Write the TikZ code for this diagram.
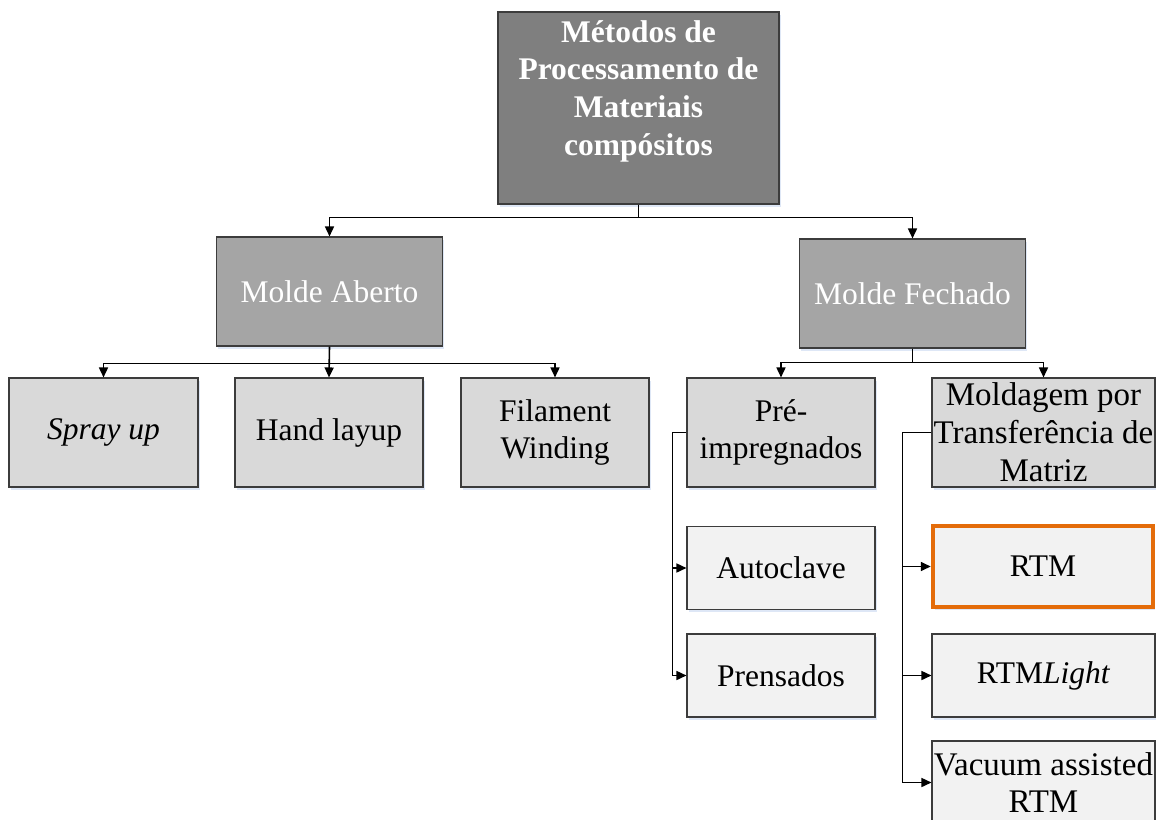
\documentclass[tikz,border=0pt]{standalone}
\usepackage{fontspec}
\setmainfont{Liberation Serif}
\usetikzlibrary{arrows.meta,shadows,calc}

\definecolor{rootfill}{RGB}{127,127,127}
\definecolor{midfill}{RGB}{165,165,165}
\definecolor{leaffill}{RGB}{217,217,217}
\definecolor{subfill}{RGB}{242,242,242}
\definecolor{edge}{RGB}{60,60,60}
\definecolor{hilite}{RGB}{228,108,10}
\definecolor{glow}{RGB}{200,215,240}

\begin{document}
\begin{tikzpicture}[x=1pt,y=-1pt,
  box/.style={rectangle, draw=edge, line width=1.1pt, align=center, inner sep=0pt,
    font=\fontsize{31.5}{37.5}\selectfont,
    drop shadow={shadow xshift=1.5pt, shadow yshift=-2.5pt, fill=glow, opacity=0.6}},
  rootbox/.style={box, fill=rootfill, minimum width=281pt, minimum height=192pt},
  roottext/.style={align=center, text=white, font=\fontsize{31.5}{37.7}\selectfont\bfseries},
  midbox/.style={box, fill=midfill, text=white, minimum width=226pt, minimum height=109pt},
  leafbox/.style={box, fill=leaffill, minimum height=109pt},
  subbox/.style={box, fill=subfill, minimum height=83pt},
  link/.style={line width=1.6pt, draw=black},
  arrow/.style={link, -{Triangle[length=10pt, width=9pt]}}
]
\useasboundingbox (0,0) rectangle (1156,819);
\clip (0,0) rectangle (1156,819);

% top of the hierarchy
\node[rootbox] (root) at (638.5,108) {};
\node[roottext] (roottitle) at ($(root.center)+(0,-17)$)
  {Métodos de\\Processamento de\\Materiais\\compósitos};

% open / closed mould
\node[midbox] (aberto)  at (329.5,291.5) {Molde Aberto};
\node[midbox] (fechado) at (912.5,293.5) {Molde Fechado};

% open-mould methods
\node[leafbox, minimum width=189pt] (spray)    at (103.5,432.5) {\itshape Spray up};
\node[leafbox, minimum width=188pt] (hand)     at (329,432.5)   {Hand layup};
\node[leafbox, minimum width=188pt] (filament) at (555,432.5)   {Filament\\Winding};

% closed-mould families
\node[leafbox, minimum width=188pt] (pre)  at (781,432.5) {Pré-\\impregnados};
\node[leafbox, minimum width=223pt, font=\fontsize{33}{38}\selectfont] (rtmfam) at (1043.5,432.5)
  {Moldagem por\\Transferência de\\Matriz};

% prepreg processes
\node[subbox, minimum width=188pt] (auto) at (781,568)   {Autoclave};
\node[subbox, minimum width=188pt] (pren) at (781,675.5) {Prensados};

% resin transfer processes
\node[subbox, draw=hilite, line width=4.5pt, minimum width=220pt, minimum height=81pt] (rtm)
  at (1043,566.5) {RTM};
\node[subbox, minimum width=223pt] (light) at (1043.5,675.5) {RTM\textit{Light}};
\node[subbox, minimum width=223pt, font=\fontsize{33}{37}\selectfont] (vart)
  at (1043.5,782.5) {Vacuum assisted\\RTM};

% connectors
\draw[arrow] (root.south) -- ++(0,13) -| (aberto.north);
\draw[arrow] (root.south) -- ++(0,13) -| (fechado.north);

\draw[arrow] (aberto.south) -- ++(0,17) -| (spray.north);
\draw[arrow] (aberto.south) -- (hand.north);
\draw[arrow] (aberto.south) -- ++(0,17) -| (filament.north);

\draw[arrow] (fechado.south) -- ++(0,14) -| (pre.north);
\draw[arrow] (fechado.south) -- ++(0,14) -| (rtmfam.north);

\draw[arrow] (pre.west) -- ++(-14,0) |- (auto.west);
\draw[arrow] (pre.west) -- ++(-14,0) |- (pren.west);

\draw[arrow] (rtmfam.west) -- ++(-29,0) |- (rtm.west);
\draw[arrow] (rtmfam.west) -- ++(-29,0) |- (light.west);
\draw[arrow] (rtmfam.west) -- ++(-29,0) |- (vart.west);
\end{tikzpicture}
\end{document}
